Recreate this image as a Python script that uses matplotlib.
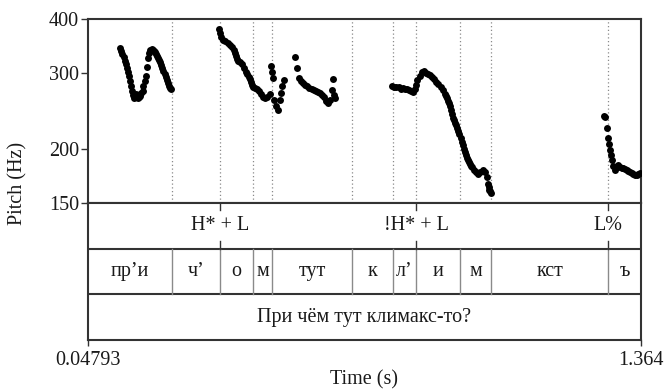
import matplotlib
matplotlib.use('Agg')
import matplotlib.pyplot as plt
from matplotlib.ticker import FixedLocator, NullLocator, FixedFormatter

plt.rcParams['font.family'] = ['Liberation Serif', 'DejaVu Serif']

# ---------------- data ----------------
t_start, t_end = 0.04793, 1.364
f_min, f_max = 150, 400
pitch_ticks = [150, 200, 300, 400]

seg1_t = [0.125, 0.1275, 0.130, 0.1325, 0.135, 0.1375, 0.140, 0.1425, 0.145, 0.1475,
          0.150, 0.152, 0.155, 0.158, 0.160, 0.163, 0.165, 0.168, 0.170, 0.172,
          0.175, 0.178, 0.180, 0.1825, 0.185, 0.1875, 0.190, 0.1925, 0.195, 0.200,
          0.2025, 0.205, 0.2075, 0.210, 0.2125, 0.215, 0.2175, 0.220, 0.2225, 0.225,
          0.2275, 0.230, 0.2325, 0.235, 0.2375, 0.240, 0.2425, 0.245]
seg1_f = [343, 337, 332, 326, 320, 314, 308, 301, 295, 287,
          280, 272, 267, 262, 264, 268, 267, 262, 264, 266,
          270, 272, 280, 287, 295, 310, 325, 333, 339, 341,
          339, 337, 335, 332, 329, 325, 321, 318, 313, 308,
          303, 298, 293, 289, 284, 280, 277, 275]

seg2_t = [0.360, 0.3625, 0.365, 0.370, 0.375, 0.380, 0.385, 0.390, 0.395, 0.3975,
          0.400, 0.4025, 0.405, 0.410, 0.415, 0.420, 0.425, 0.4275, 0.430, 0.4325,
          0.435, 0.4375, 0.440, 0.445, 0.450, 0.455, 0.460, 0.465, 0.470, 0.475,
          0.480, 0.483, 0.486, 0.488, 0.490, 0.495, 0.500, 0.505, 0.5075, 0.510, 0.515]
seg2_f = [380, 371, 363, 358, 356, 352, 348, 345, 339, 333,
          328, 324, 320, 318, 315, 308, 302, 298, 294, 290,
          286, 282, 278, 277, 275, 272, 268, 264, 262, 264,
          268, 311, 302, 292, 260, 252, 246, 260, 270, 280, 289]

seg3_t = [0.540, 0.545, 0.550, 0.555, 0.560, 0.565, 0.570, 0.575, 0.580, 0.585, 0.590,
          0.595, 0.600, 0.605, 0.610, 0.615, 0.620, 0.625, 0.628, 0.630, 0.633, 0.636]
seg3_f = [327, 308, 292, 287, 284, 281, 280, 277, 275, 274, 272,
          271, 270, 267, 264, 258, 255, 260, 274, 291, 267, 262]

seg4_t = [0.772, 0.777, 0.782, 0.787, 0.792, 0.797, 0.802, 0.807, 0.812, 0.817,
          0.822, 0.827, 0.8295, 0.832, 0.837, 0.842, 0.847, 0.852, 0.857, 0.862,
          0.867, 0.872, 0.877, 0.882, 0.887, 0.892, 0.897, 0.8995, 0.902, 0.9045,
          0.907, 0.9095, 0.912, 0.9145, 0.917, 0.9195, 0.922, 0.9245, 0.927, 0.9295,
          0.932, 0.9345, 0.937, 0.9395, 0.942, 0.9445, 0.947, 0.9495, 0.952, 0.9545,
          0.957, 0.9595, 0.962, 0.967, 0.972, 0.977, 0.982, 0.987, 0.992, 0.997,
          1.000, 1.0015, 1.003, 1.0045, 1.006]
seg4_f = [280, 279, 278, 279, 276, 277, 276, 275, 274, 272,
          271, 276, 282, 289, 295, 302, 303, 300, 298, 296,
          294, 290, 286, 283, 278, 274, 268, 265, 262, 259,
          256, 251, 246, 241, 236, 233, 230, 227, 224, 220,
          217, 212, 208, 204, 200, 197, 194, 191, 189, 187,
          185, 183, 182, 179, 177, 175, 177, 179, 177, 172,
          166, 163, 161, 160, 158]

seg5_t = [1.276, 1.279, 1.283, 1.286, 1.288, 1.290, 1.292, 1.294, 1.298, 1.302, 1.306,
          1.310, 1.314, 1.318, 1.322, 1.326, 1.330, 1.334, 1.338, 1.342, 1.346, 1.350,
          1.354, 1.358, 1.362]
seg5_f = [238, 237, 224, 212, 205, 199, 194, 189, 183, 179, 182,
          184, 182, 181, 181, 180, 179, 178, 177, 176, 175, 174,
          174, 175, 176]

interval_bounds = [0.2478, 0.3621, 0.4399, 0.4863, 0.6771, 0.7733, 0.8287, 0.9327, 1.0075, 1.2864]
interval_labels = ['пр’и', 'ч’', 'о', 'м', 'тут', 'к', 'л’', 'и', 'м', 'кст', 'ъ']
tone_times = [0.3621, 0.8287, 1.2864]
tone_labels = ['H* + L', '!H* + L', 'L%']
sentence = 'При чём тут климакс-то?'

# ---------------- figure ----------------
W, H = 666, 392
fig = plt.figure(figsize=(W / 100, H / 100), dpi=100)

left_px, right_px = 88, 641
top_px, pitch_bot_px, bot_px = 19, 203, 340

ax = fig.add_axes([left_px / W, 1 - pitch_bot_px / H, (right_px - left_px) / W,
                   (pitch_bot_px - top_px) / H])
axt = fig.add_axes([left_px / W, 1 - bot_px / H, (right_px - left_px) / W,
                    (bot_px - pitch_bot_px) / H])

frame_col = '#333333'
grid_col = '#8a8a8a'
txt_col = '#1a1a1a'
fs = 14.5

# pitch panel
ax.set_yscale('log')
ax.set_xlim(t_start, t_end)
ax.set_ylim(f_min, f_max)
for b in interval_bounds:
    ax.axvline(b, color=grid_col, lw=0.9, ls=(0, (1, 2)), zorder=1)
for ts, fs_ in [(seg1_t, seg1_f), (seg2_t, seg2_f), (seg3_t, seg3_f),
                (seg4_t, seg4_f), (seg5_t, seg5_f)]:
    ax.plot(ts, fs_, 'o', color='black', ms=5.0, mec='none', zorder=3)

ax.yaxis.set_major_locator(FixedLocator(pitch_ticks))
ax.yaxis.set_major_formatter(FixedFormatter([str(v) for v in pitch_ticks]))
ax.yaxis.set_minor_locator(NullLocator())
ax.xaxis.set_major_locator(NullLocator())
ax.xaxis.set_minor_locator(NullLocator())
ax.tick_params(axis='y', direction='out', length=5, width=1.0, color=frame_col,
               labelsize=fs, pad=1.5, labelcolor=txt_col)
for s in ax.spines.values():
    s.set_color(frame_col)
    s.set_linewidth(1.5)

# tier panel
axt.set_xlim(t_start, t_end)
axt.set_ylim(0, 3)
for y in [1, 2]:
    axt.axhline(y, color=frame_col, lw=1.5)
for b in interval_bounds:
    axt.plot([b, b], [1, 2], color=grid_col, lw=1.0)
bounds_full = [t_start] + interval_bounds + [t_end]
for i, lab in enumerate(interval_labels):
    axt.text((bounds_full[i] + bounds_full[i + 1]) / 2, 1.5, lab, ha='center',
             va='center', fontsize=fs, color=txt_col)
for tt, lab in zip(tone_times, tone_labels):
    axt.plot([tt, tt], [3, 2.84], color=frame_col, lw=1.0)
    axt.plot([tt, tt], [2, 2.16], color=frame_col, lw=1.0)
    axt.text(tt, 2.5, lab, ha='center', va='center', fontsize=fs, color=txt_col)
axt.text((t_start + t_end) / 2, 0.5, sentence, ha='center', va='center',
         fontsize=fs, color=txt_col)

axt.yaxis.set_major_locator(NullLocator())
axt.xaxis.set_major_locator(FixedLocator([t_start, t_end]))
axt.xaxis.set_major_formatter(FixedFormatter(['0.04793', '1.364']))
axt.xaxis.set_minor_locator(NullLocator())
axt.tick_params(axis='x', direction='out', length=4, width=1.0, color=frame_col,
                labelsize=fs, pad=4, labelcolor=txt_col)
for s in axt.spines.values():
    s.set_color(frame_col)
    s.set_linewidth(1.5)

fig.text((left_px + right_px) / 2 / W, 1 - 380 / H, 'Time (s)', ha='center',
         va='center', fontsize=fs, color=txt_col)
fig.text(18 / W, 1 - 183 / H, 'Pitch (Hz)', ha='center', va='center',
         rotation=90, fontsize=fs, color=txt_col)

fig.savefig('out.png', dpi=100)
